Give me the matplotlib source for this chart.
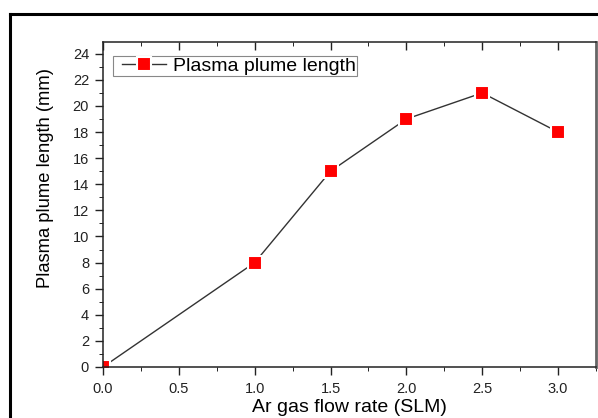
import numpy as np
import matplotlib
matplotlib.use("Agg")
import matplotlib.pyplot as plt
from matplotlib.lines import Line2D
from matplotlib.legend_handler import HandlerLine2D
from matplotlib.ticker import MultipleLocator

plt.rcParams['font.family'] = ['Liberation Sans', 'DejaVu Sans']

# data
flow_rate = [0.0, 1.0, 1.5, 2.0, 2.5, 3.0]
plume_len = [0, 8, 15, 19, 21, 18]
x_ticks = [0.0, 0.5, 1.0, 1.5, 2.0, 2.5, 3.0]
y_ticks = list(range(0, 25, 2))

fig = plt.figure(figsize=(5.98, 4.18), dpi=100)
ax = fig.add_axes([103/598, 1 - 367/418, 493/598, 325/418])

# outer frame of the figure (cut at right and bottom)
fig.add_artist(Line2D([10/598, 1.0], [1 - 14/418, 1 - 14/418], color='black', lw=2.2,
                      transform=fig.transFigure))
fig.add_artist(Line2D([10/598, 10/598], [0.0, 1 - 14/418], color='black', lw=2.2,
                      transform=fig.transFigure))

# white marker edge gives the small gap between line and symbol
ax.plot(flow_rate, plume_len, color='#333333', lw=1.0, marker='s', markersize=9.5,
        markerfacecolor='red', markeredgecolor='white', markeredgewidth=1.5,
        label='Plasma plume length')

ax.set_xlim(0, 3.25)
ax.set_ylim(0, 24.9)
ax.set_xticks(x_ticks)
ax.set_xticklabels(['%.1f' % v for v in x_ticks])
ax.set_yticks(y_ticks)
ax.xaxis.set_minor_locator(MultipleLocator(0.25))
ax.yaxis.set_minor_locator(MultipleLocator(1))

ax.tick_params(axis='both', which='major', labelsize=10.5, color='#222222', width=1.0,
               labelcolor='#222222')
ax.tick_params(axis='x', which='major', direction='out', length=6, pad=5, top=True)
ax.tick_params(axis='x', which='minor', direction='out', length=3, top=True)
ax.tick_params(axis='y', which='major', direction='out', length=6, pad=4, right=False)
ax.tick_params(axis='y', which='minor', direction='out', length=3, right=False)
# top ticks point inward
for t in ax.xaxis.get_major_ticks() + ax.xaxis.get_minor_ticks():
    t.tick2line.set_marker(3)

for side in ['left', 'bottom', 'top']:
    ax.spines[side].set_color('#222222')
    ax.spines[side].set_linewidth(1.1)
ax.spines['right'].set_color('#666666')
ax.spines['right'].set_linewidth(2.0)

ax.set_xlabel('Ar gas flow rate (SLM)', fontsize=14)
ax.set_ylabel('Plasma plume length (mm)', fontsize=13.2)
ax.xaxis.set_label_coords(0.5, -0.099)
ax.yaxis.set_label_coords(-0.10, 0.58)

leg = ax.legend(loc='upper left', bbox_to_anchor=(0.02, 0.957), borderaxespad=0,
                fontsize=14, fancybox=False, edgecolor='#888888', framealpha=1,
                handlelength=2.7, handletextpad=0.35, borderpad=0.05,
                handler_map={Line2D: HandlerLine2D(xpad=0.4)})
leg.get_frame().set_linewidth(0.8)

fig.savefig('out.png', dpi=100)
